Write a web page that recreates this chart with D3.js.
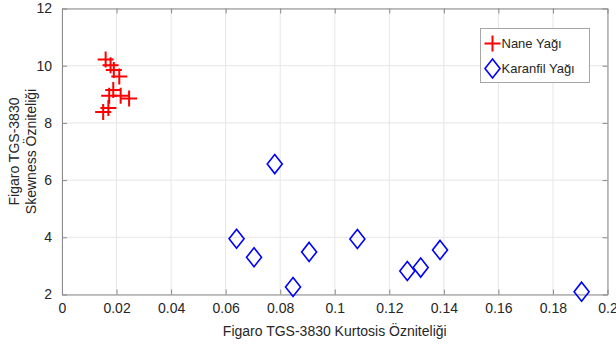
<!DOCTYPE html>
<html>
<head>
<meta charset="utf-8">
<script src="https://cdn.jsdelivr.net/npm/d3@7"></script>
<style>
  body { margin: 0; background: #fff; }
  svg text { font-family: "Liberation Sans", Arial, sans-serif; fill: #262626; }
</style>
</head>
<body>
<div id="display"></div>
<script>
// data
const naneX = [0.0160, 0.0178, 0.0190, 0.0210, 0.0188, 0.0173, 0.0215, 0.0246, 0.0151, 0.0170];
const naneY = [10.22, 10.02, 9.85, 9.62, 9.15, 8.95, 8.95, 8.85, 8.38, 8.52];
const karanfilX = [0.078, 0.064, 0.0704, 0.0847, 0.0906, 0.1083, 0.1266, 0.1315, 0.1386, 0.1905];
const karanfilY = [6.56, 3.95, 3.30, 2.26, 3.49, 3.94, 2.82, 2.94, 3.56, 2.10];
const xTicks = [0, 0.02, 0.04, 0.06, 0.08, 0.1, 0.12, 0.14, 0.16, 0.18, 0.2];
const yTicks = [2, 4, 6, 8, 10, 12];
const seriesNames = ["Nane Yağı", "Karanfil Yağı"];

function draw_chart(width, height) {
    const svg = d3.create("svg").attr("width", width).attr("height", height);

    const left = 62, right = 607.5, top = 8.5, bottom = 294.5;

    const x_scale = d3.scaleLinear().domain([0, 0.2]).range([left, right]);
    const y_scale = d3.scaleLinear().domain([2, 12]).range([bottom, top]);

    // grid
    const grid = svg.append("g").attr("stroke", "#e6e6e6").attr("stroke-width", 1);
    xTicks.forEach(t => grid.append("line")
        .attr("x1", x_scale(t)).attr("x2", x_scale(t)).attr("y1", top).attr("y2", bottom));
    yTicks.forEach(t => grid.append("line")
        .attr("x1", left).attr("x2", right).attr("y1", y_scale(t)).attr("y2", y_scale(t)));

    const fmt = d => d === 0 ? "0" : String(+d.toFixed(2));

    // axes, ticks inward like matlab
    const gX = svg.append("g").attr("transform", `translate(0,${bottom})`)
        .call(d3.axisBottom(x_scale).tickValues(xTicks).tickFormat(fmt).tickSizeInner(-5).tickSizeOuter(0).tickPadding(10));
    const gY = svg.append("g").attr("transform", `translate(${left},0)`)
        .call(d3.axisLeft(y_scale).tickValues(yTicks).tickSizeInner(-5).tickSizeOuter(0).tickPadding(10));
    const gXt = svg.append("g").attr("transform", `translate(0,${top})`)
        .call(d3.axisTop(x_scale).tickValues(xTicks).tickFormat("").tickSizeInner(-5).tickSizeOuter(0));
    const gYr = svg.append("g").attr("transform", `translate(${right},0)`)
        .call(d3.axisRight(y_scale).tickValues(yTicks).tickFormat("").tickSizeInner(-5).tickSizeOuter(0));

    [gX, gY, gXt, gYr].forEach(g => {
        g.selectAll("path.domain").attr("stroke", "#8a8a8a");
        g.selectAll(".tick line").attr("stroke", "#8a8a8a");
        g.selectAll("text").attr("font-size", 14).attr("fill", "#262626")
            .style("font-family", "'Liberation Sans', Arial, sans-serif");
    });
    gX.selectAll("text").attr("dy", "0.6em");

    // axis titles
    svg.append("text").attr("x", (left + right) / 2).attr("y", 336)
        .attr("text-anchor", "middle").attr("font-size", 14)
        .text("Figaro TGS-3830 Kurtosis Özniteliği");
    const yl = svg.append("text").attr("transform", `translate(19,${(top + bottom) / 2}) rotate(-90)`)
        .attr("text-anchor", "middle").attr("font-size", 14);
    yl.append("tspan").attr("x", 0).attr("dy", 0).text("Figaro TGS-3830");
    yl.append("tspan").attr("x", 0).attr("dy", 17).text("Skewness Özniteliği");

    const plusPath = s => `M${-s},0H${s}M0,${-s}V${s}`;
    const diamondPath = (w, h) => `M0,${-h}L${w},0L0,${h}L${-w},0Z`;

    // nane (red plus)
    svg.append("g").selectAll("path").data(naneX).join("path")
        .attr("transform", (d, i) => `translate(${x_scale(d)},${y_scale(naneY[i])})`)
        .attr("d", plusPath(8)).attr("stroke", "#ff0000").attr("stroke-width", 2).attr("fill", "none");

    // karanfil (blue diamonds)
    svg.append("g").selectAll("path").data(karanfilX).join("path")
        .attr("transform", (d, i) => `translate(${x_scale(d)},${y_scale(karanfilY[i])})`)
        .attr("d", diamondPath(7.5, 9.5)).attr("stroke", "#0000ff").attr("stroke-width", 1.6).attr("fill", "none");

    // legend
    const lg = svg.append("g").attr("transform", "translate(480.5,28.5)");
    lg.append("rect").attr("width", 109).attr("height", 54)
        .attr("fill", "#fff").attr("stroke", "#a6a6a6").attr("stroke-width", 1);
    lg.append("path").attr("transform", "translate(12,15)").attr("d", plusPath(8))
        .attr("stroke", "#ff0000").attr("stroke-width", 2).attr("fill", "none");
    lg.append("path").attr("transform", "translate(12,40)").attr("d", diamondPath(7.5, 9.5))
        .attr("stroke", "#0000ff").attr("stroke-width", 1.6).attr("fill", "none");
    seriesNames.forEach((n, i) => lg.append("text").attr("x", 21).attr("y", 15 + i * 25)
        .attr("dy", "0.35em").attr("font-size", 13).text(n));

    return svg.node();
}

document.getElementById("display").appendChild(draw_chart(616, 345));
</script>
</body>
</html>
